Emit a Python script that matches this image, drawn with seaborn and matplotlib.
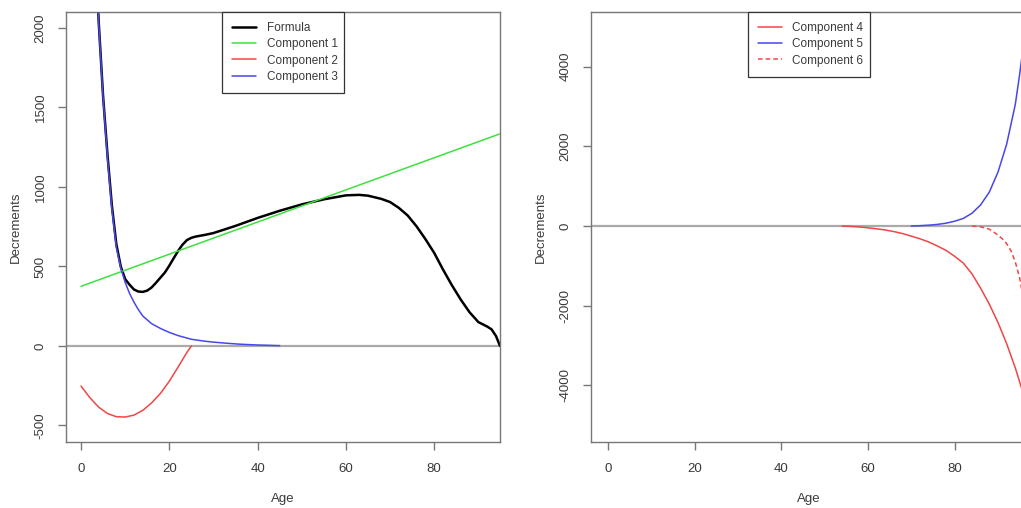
import matplotlib
matplotlib.use("Agg")
import matplotlib.pyplot as plt
import seaborn as sns

# ---- Left panel: total decrements and first three components ----
formula_age = [3, 4, 5, 6, 7, 8, 9, 10, 11, 12, 13, 14, 15, 16, 17, 18, 19, 20,
               21, 22, 23, 24, 25, 26, 28, 30, 35, 40, 45, 50, 55, 60, 63, 65,
               68, 70, 72, 74, 76, 78, 80, 82, 84, 86, 88, 90, 92, 93, 94, 94.9]
formula_val = [2700, 2040, 1570, 1200, 880, 640, 500, 420, 385, 355, 342, 340,
               348, 368, 398, 430, 462, 505, 552, 598, 637, 666, 680, 688, 698,
               710, 755, 805, 850, 890, 922, 947, 950, 945, 925, 905, 868, 820,
               752, 672, 585, 480, 382, 292, 212, 150, 122, 104, 62, 0]

comp1_age = [0, 95]
comp1_val = [375, 1335]

comp2_age = [0, 2, 4, 6, 8, 10, 12, 14, 16, 18, 20, 22, 24, 25]
comp2_val = [-252, -325, -385, -425, -445, -447, -435, -405, -358, -298, -222,
             -132, -40, 0]

comp3_age = [3, 4, 5, 6, 7, 8, 9, 10, 11, 12, 13, 14, 16, 18, 20, 22, 25, 28,
             30, 33, 36, 40, 45]
comp3_val = [2700, 2030, 1560, 1180, 860, 620, 490, 400, 330, 275, 228, 188,
             140, 110, 85, 65, 42, 30, 24, 17, 11, 6, 2]

# ---- Right panel: senescent components ----
comp4_age = [54, 56, 58, 60, 62, 64, 66, 68, 70, 72, 74, 76, 78, 80, 82, 84,
             86, 88, 90, 92, 94, 96, 97]
comp4_val = [0, -10, -25, -45, -70, -100, -140, -190, -255, -320, -400, -500,
             -610, -760, -930, -1200, -1560, -1960, -2420, -2950, -3560, -4260,
             -4650]

comp5_age = [70, 72, 74, 76, 78, 80, 82, 84, 86, 88, 90, 92, 94, 95, 96, 97]
comp5_val = [0, 8, 20, 40, 70, 120, 190, 320, 530, 850, 1350, 2050, 3050, 3800,
             4650, 5600]

comp6_age = [84, 86, 88, 89, 90, 91, 92, 93, 94, 95, 96, 97]
comp6_val = [0, -20, -80, -150, -230, -320, -440, -620, -900, -1300, -1900,
             -2700]

left_xticks = [0, 20, 40, 60, 80]
left_yticks = [-500, 0, 500, 1000, 1500, 2000]
right_xticks = [0, 20, 40, 60, 80]
right_yticks = [-4000, -2000, 0, 2000, 4000]

sns.set_style("ticks")
plt.rcParams["font.family"] = ["Liberation Sans", "DejaVu Sans"]
plt.rcParams["axes.unicode_minus"] = False

W, H = 1021, 508
fig = plt.figure(figsize=(W / 100, H / 100), dpi=100)

def px_axes(x0, x1, y0, y1):
    return fig.add_axes([x0 / W, (H - y1) / H, (x1 - x0) / W, (y1 - y0) / H])

axL = px_axes(66, 500, 12, 442)
axR = px_axes(591, 1027, 12, 442)

GREEN = "#3fe03f"
RED = "#f04646"
BLUE = "#4747ea"
SPINE = "#777777"
TEXT = "#3a3a3a"

# left panel
axL.axhline(0, color="#aaaaaa", lw=1.6, zorder=1)
sns.lineplot(x=comp1_age, y=comp1_val, ax=axL, color=GREEN, lw=1.1, label="Component 1", zorder=3)
sns.lineplot(x=comp2_age, y=comp2_val, ax=axL, color=RED, lw=1.1, label="Component 2", zorder=3)
sns.lineplot(x=comp3_age, y=comp3_val, ax=axL, color=BLUE, lw=1.1, label="Component 3", zorder=3)
sns.lineplot(x=formula_age, y=formula_val, ax=axL, color="black", lw=1.8, label="Formula", zorder=2)
axL.set_xlim(-3.4, 94.9)
axL.set_ylim(-604, 2100)
axL.set_xticks(left_xticks)
axL.set_yticks(left_yticks)

# right panel
axR.axhline(0, color="#aaaaaa", lw=1.6, zorder=1)
sns.lineplot(x=comp4_age, y=comp4_val, ax=axR, color=RED, lw=1.1, label="Component 4", zorder=3)
sns.lineplot(x=comp5_age, y=comp5_val, ax=axR, color=BLUE, lw=1.1, label="Component 5", zorder=3)
sns.lineplot(x=comp6_age, y=comp6_val, ax=axR, color=RED, lw=1.1, linestyle=(0, (3, 2)),
             label="Component 6", zorder=3)
axR.set_xlim(-3.9, 96.7)
axR.set_ylim(-5420, 5370)
axR.set_xticks(right_xticks)
axR.set_yticks(right_yticks)

for ax in (axL, axR):
    for s in ax.spines.values():
        s.set_color(SPINE)
        s.set_linewidth(1.0)
    ax.tick_params(axis="both", length=6, width=1.0, color=SPINE, labelcolor=TEXT,
                   labelsize=9.5, pad=9)
    ax.tick_params(axis="y", labelrotation=90, pad=8)
    for lab in ax.get_yticklabels():
        lab.set_va("center")
    ax.set_xlabel("Age", fontsize=9.5, color=TEXT, labelpad=13)
    ax.set_ylabel("Decrements", fontsize=9.5, color=TEXT, labelpad=9)

def legend(ax, order, height):
    handles, labels = ax.get_legend_handles_labels()
    pairs = dict(zip(labels, handles))
    leg = ax.legend([pairs[k] for k in order], order, loc="upper left",
                    bbox_to_anchor=(0.36, 1.0 - height, 0.281, height), mode="expand",
                    borderaxespad=0, fancybox=False, framealpha=1, fontsize=8.5,
                    handlelength=2.0, handletextpad=0.9, labelspacing=0.36,
                    borderpad=0.85)
    frame = leg.get_frame()
    frame.set_edgecolor("#333333")
    frame.set_linewidth(0.9)
    for t in leg.get_texts():
        t.set_color(TEXT)

legend(axL, ["Formula", "Component 1", "Component 2", "Component 3"], 0.19)
legend(axR, ["Component 4", "Component 5", "Component 6"], 0.15)

fig.savefig("out.png", dpi=100)
